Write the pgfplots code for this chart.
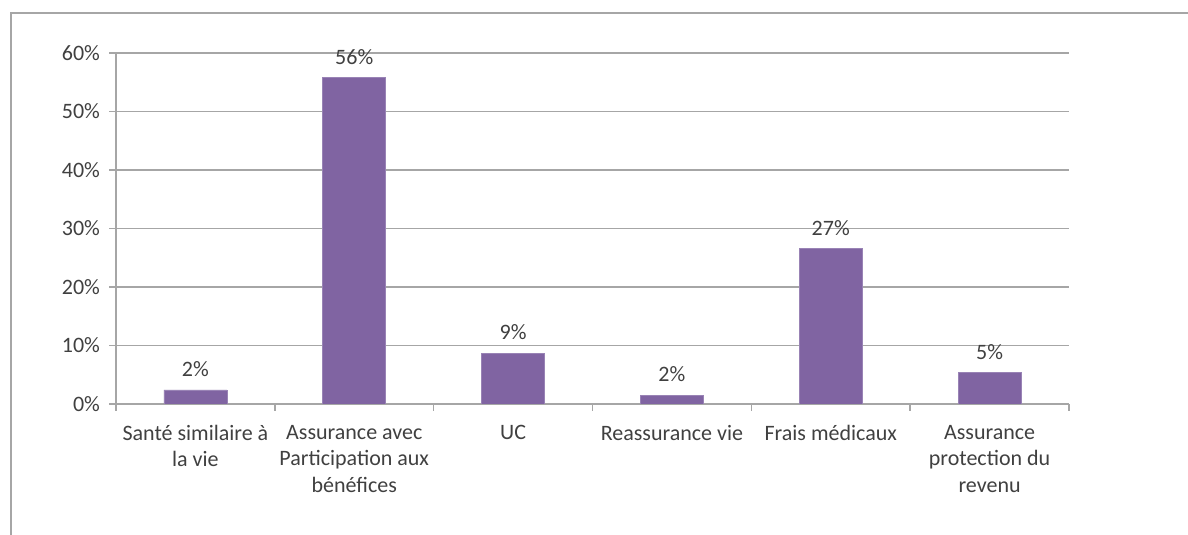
\documentclass[border=0pt]{standalone}
\usepackage{pgfplots}
\pgfplotsset{compat=1.18}
\usepackage{fontspec}
\setmainfont{Carlito}
\definecolor{barpurple}{HTML}{8064A2}
\definecolor{gridgray}{HTML}{A6A6A6}
\definecolor{txt}{HTML}{404040}
\begin{document}
\begin{tikzpicture}[x=0.5pt,y=0.5pt]
    % picture size in reference pixels (1px = 0.5pt)
    \path[use as bounding box] (0,0) rectangle (1188,535);
    % chart frame (only top and left edges visible)
    \draw[gridgray, line width=1pt] (10.5,0) -- (10.5,522) -- (1188,522);
    \begin{axis}[
        at={(116pt*0.5,131pt*0.5)}, anchor=origin,
        scale only axis,
        width=476.5pt, height=175.5pt,
        ymin=0, ymax=60,
        xmin=0.5, xmax=6.5,
        ytick={0,10,...,60},
        yticklabel={\pgfmathprintnumber{\tick}\%},
        /pgf/number format/assume math mode=true,
        xtick={0.5,1.5,...,6.5},
        x tick label as interval,
        xticklabels={{Santé similaire à\\la vie},{Assurance avec\\Participation aux\\bénéfices},{UC},{Reassurance vie},{Frais médicaux},{Assurance\\protection du\\revenu}},
        xticklabel style={align=center, font=\fontsize{11pt}{13.3pt}\selectfont, text=txt, yshift=-3.5pt},
        yticklabel style={font=\fontsize{11pt}{13pt}\selectfont, text=txt, xshift=-1pt},
        ymajorgrids=true,
        grid style={gridgray, line width=0.8pt},
        axis x line*=bottom,
        axis y line*=left,
        axis line style={gridgray, line width=0.8pt, -},
        tick style={gridgray, line width=0.8pt},
        major tick length=3.5pt,
        xtick align=outside,
        ytick align=outside,
        ybar,
        bar width=31.5pt,
        nodes near coords={\pgfplotspointmeta},
        point meta=explicit symbolic,
        nodes near coords style={font=\fontsize{11pt}{13pt}\selectfont, text=txt, yshift=3pt},
    ]
        \addplot[fill=barpurple, draw=barpurple!80!white] table[meta=lab] {
            x y lab
            1 2.4 2\%
            2 55.8 56\%
            3 8.7 9\%
            4 1.5 2\%
            5 26.6 27\%
            6 5.4 5\%
        };
    \end{axis}
\end{tikzpicture}
\end{document}
